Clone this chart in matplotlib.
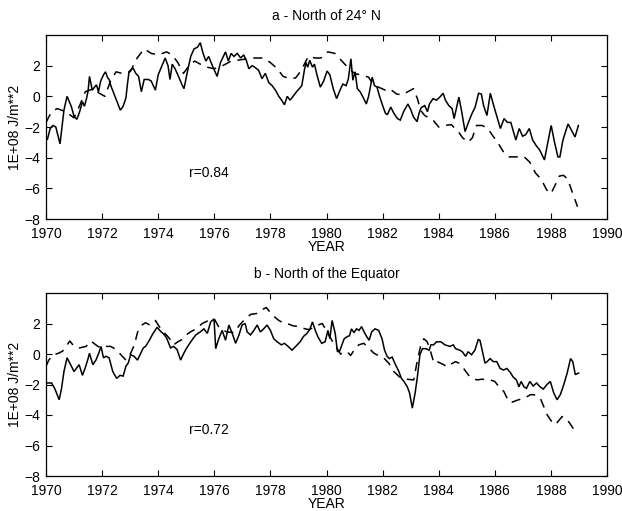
import matplotlib
matplotlib.use("Agg")
import matplotlib.pyplot as plt

plt.rcParams['font.family'] = ['Liberation Sans', 'DejaVu Sans']

# ---------------- data ----------------
top_solid_years = [1970.05, 1970.15, 1970.25, 1970.35, 1970.5, 1970.64, 1970.75, 1970.9, 1971.0, 1971.1,
    1971.2, 1971.3, 1971.37, 1971.45, 1971.5, 1971.55, 1971.65, 1971.75, 1971.8, 1971.87,
    1971.95, 1972.05, 1972.12, 1972.2, 1972.25, 1972.32, 1972.5, 1972.65, 1972.75, 1972.85,
    1972.9, 1972.96, 1973.1, 1973.2, 1973.3, 1973.4, 1973.5, 1973.65, 1973.75, 1973.9,
    1974.0, 1974.1, 1974.25, 1974.35, 1974.42, 1974.5, 1974.6, 1974.7, 1974.85, 1974.92,
    1975.04, 1975.16, 1975.28, 1975.4, 1975.5, 1975.6, 1975.7, 1975.8, 1975.93, 1976.1,
    1976.22, 1976.4, 1976.5, 1976.6, 1976.7, 1976.82, 1976.94, 1977.05, 1977.15, 1977.23,
    1977.35, 1977.44, 1977.58, 1977.7, 1977.82, 1977.94, 1978.06, 1978.18, 1978.3, 1978.4,
    1978.5, 1978.6, 1978.7, 1978.83, 1978.93, 1979.03, 1979.12, 1979.22, 1979.27, 1979.33,
    1979.4, 1979.5, 1979.57, 1979.66, 1979.78, 1979.9, 1980.02, 1980.12, 1980.24, 1980.36,
    1980.48, 1980.58, 1980.7, 1980.78, 1980.87, 1980.94, 1981.02, 1981.1, 1981.2, 1981.3,
    1981.42, 1981.5, 1981.63, 1981.71, 1981.8, 1981.9, 1982.02, 1982.1, 1982.17, 1982.29,
    1982.4, 1982.53, 1982.63, 1982.75, 1982.9, 1983.0, 1983.1, 1983.23, 1983.3, 1983.37,
    1983.5, 1983.6, 1983.67, 1983.8, 1983.92, 1984.04, 1984.16, 1984.24, 1984.36, 1984.48,
    1984.55, 1984.63, 1984.72, 1984.82, 1984.94, 1985.06, 1985.18, 1985.3, 1985.42, 1985.52,
    1985.6, 1985.72, 1985.84, 1985.96, 1986.08, 1986.2, 1986.33, 1986.45, 1986.57, 1986.65,
    1986.75, 1986.87, 1986.99, 1987.1, 1987.23, 1987.35, 1987.47, 1987.6, 1987.77, 1987.88,
    1988.01, 1988.13, 1988.25, 1988.32, 1988.43, 1988.61, 1988.73, 1988.86, 1988.98]
top_solid_values = [-2.8, -2.1, -1.9, -2.0, -3.1, -0.9, 0.0, -0.65, -1.3, -1.5,
    -1.0, -0.35, -0.65, -0.1, 0.35, 1.3, 0.4, 0.65, 0.75, 0.3,
    1.0, 1.4, 1.6, 1.2, 1.1, 0.65, -0.2, -0.9, -0.65, -0.1,
    0.75, 1.6, 1.85, 1.5, 1.3, 0.3, 1.1, 1.1, 1.0, 0.4,
    1.4, 1.85, 2.5, 2.0, 1.1, 2.1, 1.8, 1.4, 0.75, 0.5,
    1.6, 2.6, 3.1, 3.2, 3.5, 2.8, 2.3, 2.6, 2.0, 1.3,
    2.2, 2.9, 2.3, 2.8, 2.6, 2.8, 2.5, 2.7, 2.3, 1.8,
    2.0, 1.9, 1.7, 1.15, 1.5, 0.9, 0.7, 0.4, 0.0, -0.25,
    -0.55, 0.0, -0.25, 0.05, 0.3, 0.5, 0.7, 1.8, 2.2, 1.9,
    2.35, 1.9, 2.1, 1.4, 0.6, 1.0, 1.65, 1.4, 0.5, -0.15,
    0.4, 0.8, 0.7, 1.15, 2.45, 1.05, 1.6, 0.5, 0.3, -0.05,
    -0.5, 0.0, 1.25, 0.7, 0.6, -0.05, -0.7, -1.1, -1.2, -0.7,
    -1.1, -1.45, -1.55, -1.0, -0.5, -0.85, -1.35, -1.65, -1.1, -0.75,
    -0.6, -1.0, -0.5, -0.15, -0.25, -0.05, 0.2, -0.25, -0.6, -0.8,
    -1.45, -0.8, -0.05, -1.0, -2.3, -1.7, -1.15, -0.7, 0.2, 0.15,
    -0.6, -1.25, 0.2, -0.6, -1.35, -2.1, -1.45, -1.7, -1.7, -2.2,
    -2.85, -2.1, -2.6, -2.5, -2.1, -2.85, -3.2, -3.5, -4.15, -3.1,
    -1.9, -3.0, -3.95, -3.95, -2.85, -1.8, -2.2, -2.65, -1.9]

top_dash_years = [1970.0, 1970.2, 1970.4, 1970.7, 1971.0, 1971.2, 1971.4, 1971.7, 1971.9, 1972.1,
    1972.3, 1972.5, 1972.7, 1973.0, 1973.25, 1973.5, 1973.75, 1974.0, 1974.3, 1974.5,
    1974.7, 1974.9, 1975.1, 1975.3, 1975.5, 1975.75, 1976.0, 1976.3, 1976.6, 1977.0,
    1977.4, 1977.75, 1978.0, 1978.25, 1978.45, 1978.7, 1978.9, 1979.1, 1979.35, 1979.6,
    1979.8, 1980.05, 1980.3, 1980.55, 1980.8, 1981.0, 1981.3, 1981.5, 1981.65, 1981.85,
    1982.1, 1982.25, 1982.5, 1982.7, 1982.9, 1983.1, 1983.25, 1983.35, 1983.5, 1983.8,
    1984.0, 1984.2, 1984.45, 1984.7, 1984.85, 1985.05, 1985.2, 1985.35, 1985.55, 1985.75,
    1985.9, 1986.1, 1986.3, 1986.5, 1986.75, 1987.05, 1987.25, 1987.45, 1987.65, 1987.85,
    1988.0, 1988.15, 1988.3, 1988.45, 1988.6, 1988.8, 1988.95]
top_dash_values = [-1.7, -1.0, -0.8, -1.0, -1.4, -0.6, 0.3, 0.5, 0.2, 0.0,
    1.0, 1.6, 1.5, 1.6, 2.5, 3.1, 2.8, 2.7, 2.9, 2.7,
    2.2, 1.5, 2.0, 2.3, 2.1, 1.9, 1.8, 2.0, 2.3, 2.4,
    2.5, 2.5, 2.2, 1.8, 1.3, 1.15, 1.2, 1.7, 2.6, 2.5,
    2.5, 2.9, 2.8, 2.3, 1.8, 1.5, 1.35, 1.25, 0.8, 0.6,
    0.4, 0.5, 0.15, 0.1, 0.3, 0.5, -0.2, -0.9, -1.25, -1.55,
    -2.0, -1.9, -1.85, -2.3, -2.7, -3.0, -2.7, -1.9, -1.9, -2.1,
    -2.5, -3.0, -3.6, -3.95, -3.95, -3.95, -4.3, -5.0, -5.4, -6.1,
    -6.35, -5.8, -5.2, -5.15, -5.4, -6.45, -7.2]

bot_solid_years = [1970.02, 1970.2, 1970.32, 1970.47, 1970.55, 1970.64, 1970.75, 1970.85, 1971.0, 1971.1,
    1971.18, 1971.3, 1971.4, 1971.5, 1971.55, 1971.67, 1971.78, 1971.88, 1971.96, 1972.05,
    1972.14, 1972.25, 1972.38, 1972.52, 1972.64, 1972.75, 1972.85, 1972.93, 1973.02, 1973.14,
    1973.26, 1973.38, 1973.47, 1973.55, 1973.67, 1973.8, 1973.96, 1974.08, 1974.2, 1974.3,
    1974.44, 1974.55, 1974.67, 1974.8, 1974.9, 1975.0, 1975.16, 1975.34, 1975.5, 1975.63,
    1975.75, 1975.87, 1975.99, 1976.05, 1976.14, 1976.28, 1976.4, 1976.52, 1976.64, 1976.76,
    1976.88, 1976.99, 1977.1, 1977.17, 1977.29, 1977.41, 1977.53, 1977.64, 1977.76, 1977.88,
    1978.0, 1978.12, 1978.24, 1978.39, 1978.5, 1978.63, 1978.77, 1978.9, 1979.06, 1979.18,
    1979.3, 1979.4, 1979.5, 1979.6, 1979.7, 1979.83, 1979.95, 1980.05, 1980.12, 1980.2,
    1980.31, 1980.39, 1980.47, 1980.55, 1980.63, 1980.75, 1980.82, 1980.89, 1980.98, 1981.07,
    1981.16, 1981.25, 1981.34, 1981.43, 1981.52, 1981.61, 1981.73, 1981.86, 1981.98, 1982.07,
    1982.16, 1982.24, 1982.34, 1982.46, 1982.58, 1982.67, 1982.76, 1982.88, 1982.96, 1983.06,
    1983.16, 1983.24, 1983.33, 1983.42, 1983.54, 1983.66, 1983.72, 1983.82, 1983.92, 1984.08,
    1984.22, 1984.4, 1984.52, 1984.6, 1984.75, 1984.84, 1984.96, 1985.05, 1985.17, 1985.29,
    1985.41, 1985.47, 1985.55, 1985.65, 1985.73, 1985.83, 1985.95, 1986.07, 1986.19, 1986.31,
    1986.43, 1986.55, 1986.65, 1986.77, 1986.86, 1986.94, 1987.04, 1987.13, 1987.25, 1987.37,
    1987.49, 1987.61, 1987.73, 1987.86, 1987.98, 1988.1, 1988.22, 1988.34, 1988.46, 1988.58,
    1988.7, 1988.78, 1988.87, 1988.99]
bot_solid_values = [-1.9, -1.9, -2.3, -3.0, -2.3, -1.15, -0.25, -0.6, -1.15, -0.9,
    -0.7, -1.4, -0.9, -0.3, 0.05, -0.7, -0.4, 0.05, 0.5, -0.25,
    -0.15, -0.25, -1.15, -1.6, -1.4, -1.45, -0.8, -0.6, -0.05, -0.15,
    -0.4, 0.05, 0.4, 0.5, 0.85, 1.3, 1.75, 1.5, 1.3, 1.05,
    0.4, 0.5, 0.3, -0.4, 0.0, 0.35, 0.8, 1.25, 1.45, 1.65,
    1.35, 2.1, 2.3, 0.35, 0.9, 1.55, 0.9, 1.9, 1.35, 0.7,
    1.25, 1.9, 2.0, 1.45, 1.25, 1.55, 1.9, 1.45, 1.65, 1.9,
    1.55, 1.0, 0.8, 0.6, 0.7, 0.5, 0.25, 0.5, 0.8, 1.15,
    1.35, 1.6, 2.1, 1.55, 1.1, 0.7, 0.8, 1.55, 1.0, 2.2,
    1.35, 0.15, 0.2, 0.6, 1.0, 1.15, 1.2, 1.65, 1.4, 1.65,
    1.55, 1.8, 1.45, 1.15, 0.9, 1.45, 1.65, 1.55, 1.0, 0.25,
    -0.15, -0.3, -0.2, -0.7, -1.15, -1.6, -1.8, -2.15, -2.55, -3.55,
    -2.55, -1.5, -0.05, 0.35, 0.35, 0.25, 0.6, 0.6, 0.8, 0.8,
    0.6, 0.5, 0.6, 0.35, 0.25, 0.15, -0.15, 0.15, -0.05, 0.25,
    0.95, 0.9, 0.25, -0.6, -0.5, -0.3, -0.5, -0.5, -0.95, -1.05,
    -0.95, -1.2, -1.5, -1.7, -2.15, -1.8, -2.15, -2.25, -1.8, -2.1,
    -1.9, -2.15, -2.3, -2.0, -1.8, -2.55, -3.0, -2.65, -2.0, -1.25,
    -0.3, -0.5, -1.35, -1.25]

bot_dash_years = [1970.0, 1970.1, 1970.25, 1970.45, 1970.6, 1970.85, 1971.0, 1971.2, 1971.43, 1971.6,
    1971.85, 1971.96, 1972.14, 1972.3, 1972.5, 1972.67, 1972.85, 1973.02, 1973.15, 1973.26,
    1973.38, 1973.55, 1973.7, 1973.9, 1974.02, 1974.15, 1974.32, 1974.45, 1974.55, 1974.7,
    1974.85, 1974.96, 1975.15, 1975.35, 1975.57, 1975.8, 1976.0, 1976.15, 1976.3, 1976.46,
    1976.7, 1976.9, 1977.1, 1977.3, 1977.5, 1977.7, 1977.85, 1978.1, 1978.3, 1978.45,
    1978.6, 1978.8, 1979.0, 1979.14, 1979.36, 1979.5, 1979.7, 1979.85, 1979.97, 1980.1,
    1980.25, 1980.38, 1980.5, 1980.65, 1980.74, 1980.86, 1981.0, 1981.15, 1981.33, 1981.5,
    1981.69, 1981.85, 1982.05, 1982.22, 1982.4, 1982.6, 1982.85, 1983.11, 1983.23, 1983.35,
    1983.47, 1983.59, 1983.72, 1983.83, 1983.95, 1984.18, 1984.3, 1984.45, 1984.6, 1984.72,
    1984.85, 1984.95, 1985.07, 1985.2, 1985.37, 1985.55, 1985.7, 1985.84, 1986.0, 1986.14,
    1986.32, 1986.44, 1986.56, 1986.7, 1986.85, 1987.05, 1987.27, 1987.39, 1987.5, 1987.62,
    1987.74, 1987.86, 1987.98, 1988.1, 1988.22, 1988.4, 1988.58, 1988.7, 1988.82, 1988.93]
bot_dash_values = [-0.8, -0.4, -0.05, 0.05, 0.2, 0.85, 0.5, 0.4, 0.5, 0.85,
    0.5, 0.4, 0.5, 0.5, 0.3, -0.05, -0.4, 0.05, 0.6, 1.4,
    1.85, 2.05, 1.9, 2.2, 1.85, 1.5, 1.2, 0.9, 0.6, 0.8,
    0.95, 1.2, 1.45, 1.65, 2.0, 2.2, 2.3, 1.8, 1.55, 1.45,
    1.4, 1.9, 2.3, 2.6, 2.65, 2.9, 3.05, 2.5, 2.2, 2.05,
    2.0, 1.85, 1.8, 1.7, 1.6, 1.7, 1.9, 2.0, 1.6, 1.2,
    0.7, 0.35, 0.0, 0.1, 0.15, -0.1, 0.3, 0.6, 0.7, 0.4,
    0.05, -0.1, -0.28, -0.6, -1.15, -1.5, -1.65, -1.7, -0.5, 0.48,
    1.0, 0.8, 0.1, -0.6, -0.5, -0.7, -0.85, -0.65, -0.5, -0.6,
    -0.85, -1.1, -1.4, -1.6, -1.7, -1.65, -1.7, -1.7, -1.8, -2.13,
    -2.45, -2.9, -3.2, -3.1, -3.0, -2.9, -2.67, -2.67, -2.75, -2.9,
    -3.42, -3.97, -4.3, -4.62, -4.5, -4.1, -4.3, -4.62, -4.95, -5.1]

titles = ["a - North of 24\u00b0 N", "b - North of the Equator"]
r_labels = ["r=0.84", "r=0.72"]
x_ticks = [1970, 1972, 1974, 1976, 1978, 1980, 1982, 1984, 1986, 1988, 1990]
y_ticks = [-8, -6, -4, -2, 0, 2]

# ---------------- figure ----------------
W, H = 622, 511
fig = plt.figure(figsize=(W / 100, H / 100), dpi=100)

def ax_rect(left, top, right, bottom):
    return [left / W, 1 - bottom / H, (right - left) / W, (bottom - top) / H]

axes = [fig.add_axes(ax_rect(46, 35, 607, 219)),
        fig.add_axes(ax_rect(46, 293, 607, 476))]

series = [(top_solid_years, top_solid_values, top_dash_years, top_dash_values),
          (bot_solid_years, bot_solid_values, bot_dash_years, bot_dash_values)]

for ax, (sx, sy, dx, dy), title, rl in zip(axes, series, titles, r_labels):
    ax.plot(sx, sy, color='black', lw=1.1, solid_joinstyle='miter')
    ax.plot(dx, dy, color='black', lw=1.1, linestyle=(0, (6, 4.5)))
    ax.set_xlim(1970, 1990)
    ax.set_ylim(-8, 4)
    ax.set_xticks(x_ticks)
    ax.set_yticks(y_ticks)
    ax.tick_params(direction='in', top=True, right=True, length=4, width=0.8,
                   labelsize=10)
    ax.tick_params(axis='x', pad=6)
    ax.tick_params(axis='y', pad=4)
    for s in ax.spines.values():
        s.set_linewidth(0.9)
    ax.set_title(title, fontsize=10, pad=11)
    ax.set_xlabel("YEAR", fontsize=10, labelpad=-1)
    ax.set_ylabel("1E+08 J/m**2", fontsize=10, labelpad=2)
    ax.text(1975.1, -5.0, rl, fontsize=10, va='center', ha='left')

fig.savefig("out.png", dpi=100)
